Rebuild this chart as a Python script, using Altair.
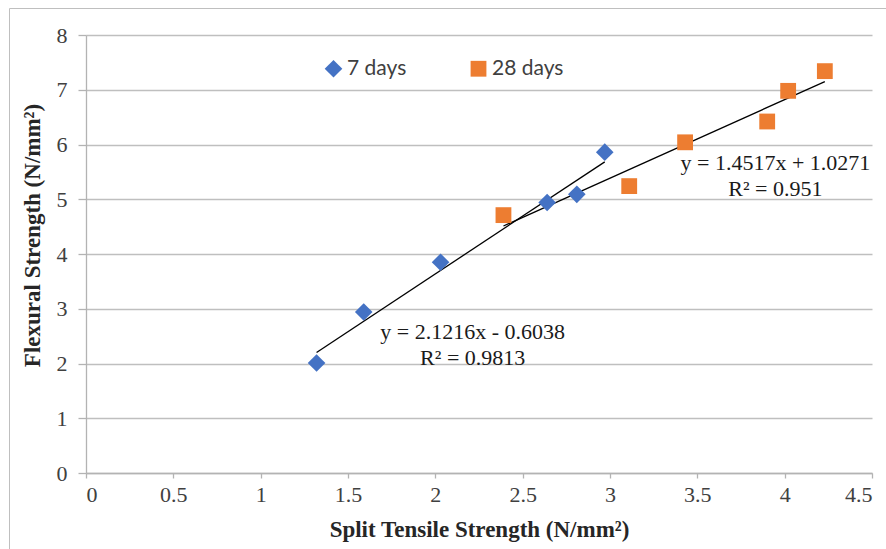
import altair as alt
import pandas as pd

# ---- data ----
series_names = ["7 days", "28 days"]
x_7days = [1.32, 1.59, 2.03, 2.64, 2.81, 2.97]
y_7days = [2.01, 2.94, 3.85, 4.94, 5.09, 5.86]
x_28days = [2.39, 3.11, 3.43, 3.90, 4.02, 4.23]
y_28days = [4.71, 5.24, 6.04, 6.42, 6.98, 7.34]

eq_labels = ["y = 2.1216x - 0.6038", "R\u00b2 = 0.9813", "y = 1.4517x + 1.0271", "R\u00b2 = 0.951"]
eq_x = [2.214, 2.214, 3.947, 3.947]
eq_y = [2.577, 2.097, 5.655, 5.185]

x_ticks = [0, 0.5, 1, 1.5, 2, 2.5, 3, 3.5, 4, 4.5]
y_ticks = [0, 1, 2, 3, 4, 5, 6, 7, 8]

df = pd.DataFrame({
    "x": x_7days + x_28days,
    "y": y_7days + y_28days,
    "series": [series_names[0]] * len(x_7days) + [series_names[1]] * len(x_28days),
})
ann = pd.DataFrame({"x": eq_x, "y": eq_y, "label": eq_labels})

SERIF = "Liberation Serif"

xscale = alt.Scale(domain=[0, 4.5], nice=False, zero=False)
yscale = alt.Scale(domain=[0, 8], nice=False)

xaxis = alt.Axis(values=x_ticks, format="~g", grid=False, tickSize=5, labelPadding=6,
                 title="Split Tensile Strength (N/mm\u00b2)", titlePadding=13)
yaxis = alt.Axis(values=y_ticks, format="d", grid=True, tickSize=8, labelPadding=11,
                 title="Flexural Strength (N/mm\u00b2)", titleX=-65, titleY=200,
                 titleBaseline="top", titleAlign="center", titleAngle=270)

legend = alt.Legend(orient="none", legendX=237, legendY=23, direction="horizontal",
                    title=None, labelFont="Lato", labelFontSize=21,
                    labelColor="#404040", symbolSize=170, columnPadding=61,
                    labelOffset=3, symbolStrokeWidth=0)

frame = alt.Chart(pd.DataFrame({"a": [0]})).mark_rect(
    fillOpacity=0, stroke="#bfbfbf", strokeWidth=1
).encode(x=alt.value(-76.5), y=alt.value(-26.5), x2=alt.value(900), y2=alt.value(600))

base = alt.Chart(df)

trend = base.transform_regression("x", "y", groupby=["series"]).mark_line(
    color="black", strokeWidth=1.3
).encode(
    x=alt.X("x:Q", scale=xscale, axis=xaxis),
    y=alt.Y("y:Q", scale=yscale, axis=yaxis),
    detail="series:N",
)

points = base.mark_point(filled=True, opacity=1, strokeWidth=0).encode(
    x=alt.X("x:Q", scale=xscale, axis=xaxis),
    y=alt.Y("y:Q", scale=yscale, axis=yaxis),
    color=alt.Color("series:N",
                    scale=alt.Scale(domain=series_names, range=["#4472C4", "#ED7D31"]),
                    legend=legend),
    shape=alt.Shape("series:N",
                    scale=alt.Scale(domain=series_names, range=["diamond", "square"]),
                    legend=legend),
    size=alt.Size("series:N", scale=alt.Scale(domain=series_names, range=[310, 250]), legend=None),
)

texts = alt.Chart(ann).mark_text(font=SERIF, fontSize=22, color="#1a1a1a", align="center",
                                  baseline="middle").encode(
    x=alt.X("x:Q", scale=xscale, axis=xaxis),
    y=alt.Y("y:Q", scale=yscale, axis=yaxis),
    text="label:N",
)

chart = alt.layer(frame, trend, points, texts).properties(
    width=786, height=438,
    autosize=alt.AutoSizeParams(type="none"),
    padding={"left": 86, "top": 35, "right": 14, "bottom": 76},
).configure_view(stroke="transparent").configure_axis(
    labelFont=SERIF, labelFontSize=22, labelColor="#404040",
    titleFont=SERIF, titleFontSize=23, titleFontWeight="bold", titleColor="#262626",
    domainColor="#b3b3b3", tickColor="#b3b3b3", gridColor="#bfbfbf",
    domainWidth=1.3, tickWidth=1.3, gridWidth=1.3,
)

chart.save("out.html", embed_options={"renderer": "svg", "actions": False})
